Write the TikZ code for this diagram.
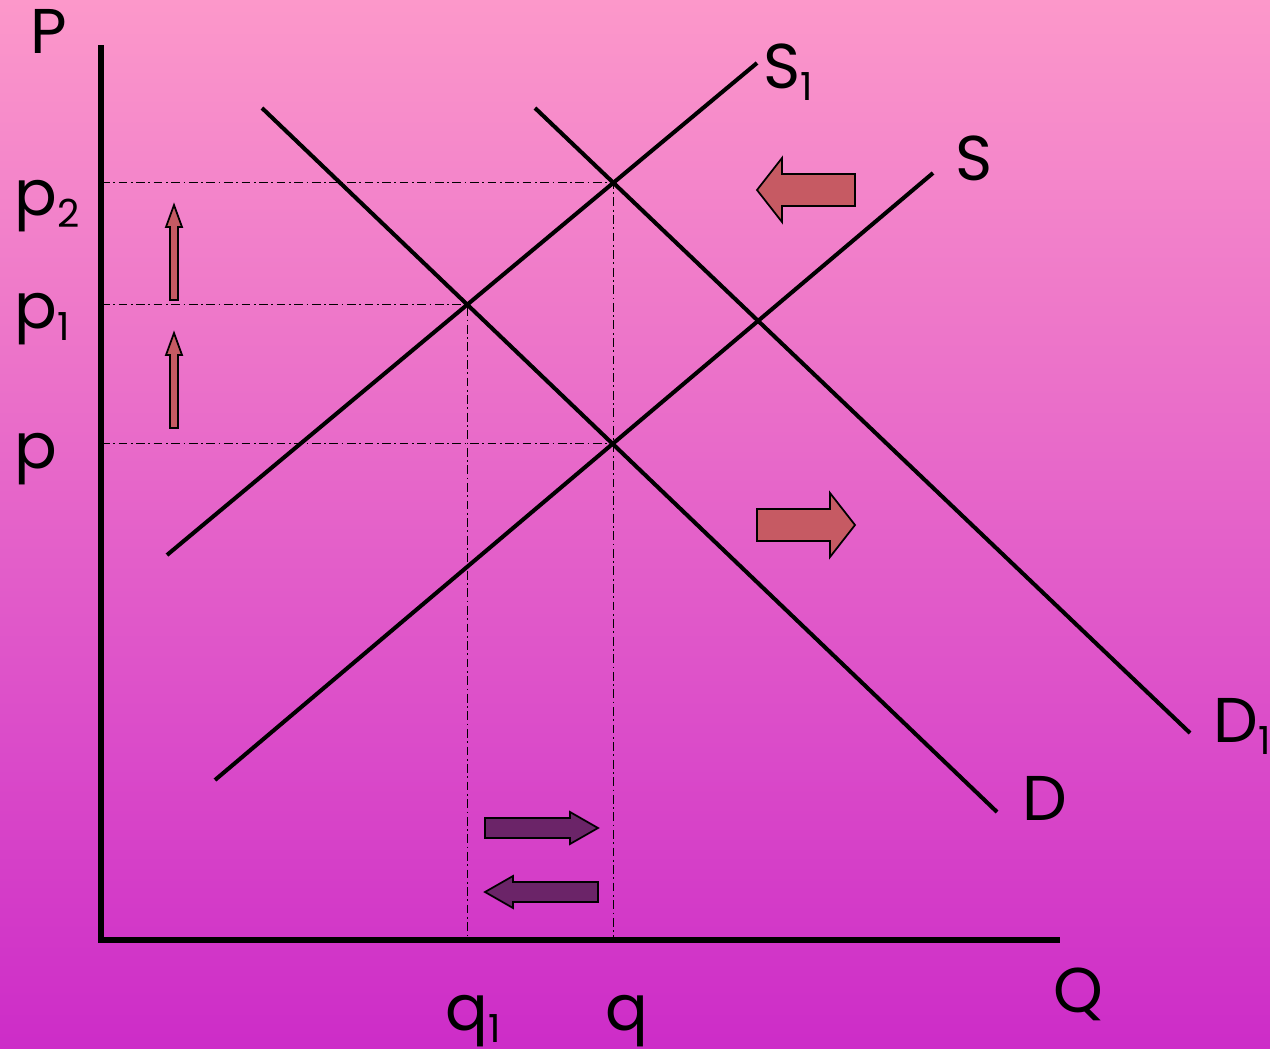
\documentclass[tikz,border=0pt]{standalone}
\usepackage{fontspec}
\setmainfont{Poppins}
\usepackage{xcolor}
\usepackage{tikz}

\definecolor{bgtop}{HTML}{FC98CA}
\definecolor{bgbottom}{HTML}{CD2CC8}
\definecolor{shiftred}{HTML}{C65A63}
\definecolor{qpurple}{HTML}{6B2468}

% block arrow: style, centre, rotation, length, body half width, head half width, head length
\newcommand{\fatarrow}[7]{%
  \filldraw[#1, shift={#2}, rotate=#3]
    (-#4/2,-#5) -- (#4/2-#7,-#5) -- (#4/2-#7,-#6) -- (#4/2,0)
    -- (#4/2-#7,#6) -- (#4/2-#7,#5) -- (-#4/2,#5) -- cycle;}

% lowered index for the labels
\newcommand{\lowidx}[1]{\raisebox{-7pt}{\fontsize{22}{24}\selectfont #1}}

\begin{document}
\begin{tikzpicture}[x=0.02cm, y=-0.02cm,
    curve/.style={line width=2.3pt},
    axis/.style={line width=3.4pt},
    guide/.style={line width=0.6pt, dash pattern=on 5pt off 2pt on 1pt off 2pt},
    lbl/.style={font=\fontsize{36}{40}\selectfont, inner sep=0pt, anchor=base west},
    shiftarrow/.style={fill=shiftred, draw=black, line width=1pt},
    qarrow/.style={fill=qpurple, draw=black, line width=1pt}]

    % Background
    \shade[top color=bgtop, bottom color=bgbottom] (0,0) rectangle (1270,1048);
    \useasboundingbox (0,0) rectangle (1270,1048);

    % Define curve end points
    \coordinate (origin) at (101,940);
    \coordinate (s1a) at (167,555);
    \coordinate (s1b) at (757,63);
    \coordinate (sa) at (215,780);
    \coordinate (sb) at (933,173);
    \coordinate (da) at (262,108);
    \coordinate (db) at (997,812);
    \coordinate (d1a) at (535,108);
    \coordinate (d1b) at (1190,733);

    % Equilibrium points
    \coordinate (e0) at (intersection of sa--sb and da--db);
    \coordinate (e1) at (intersection of s1a--s1b and da--db);
    \coordinate (e2) at (intersection of s1a--s1b and d1a--d1b);

    % Guide lines
    \draw[guide] (e0 -| origin) -- (e0);
    \draw[guide] (e1 -| origin) -- (e1) -- (e1 |- origin);
    \draw[guide] (e2 -| origin) -- (e2) -- (e2 |- origin);

    % Axes
    \draw[axis] (101,45) -- (origin) -- (1060,940);

    % Supply and demand curves
    \draw[curve] (s1a) -- (s1b);
    \draw[curve] (sa) -- (sb);
    \draw[curve] (da) -- (db);
    \draw[curve] (d1a) -- (d1b);

    % Shift arrows
    \fatarrow{shiftarrow}{(806,190)}{180}{98}{16}{32}{25}
    \fatarrow{shiftarrow}{(806,525)}{0}{98}{16}{32}{25}
    \fatarrow{shiftarrow}{(174,252.5)}{90}{95}{4}{8}{22}
    \fatarrow{shiftarrow}{(174,380.5)}{90}{95}{4}{8}{22}
    \fatarrow{qarrow}{(541.5,828)}{0}{113}{10}{16}{28}
    \fatarrow{qarrow}{(541.5,892)}{180}{113}{10}{16}{28}

    % Labels
    \node[lbl] (plabel) at (30,53) {P};
    \node[lbl] (p2label) at (14,215) {p\lowidx{2}};
    \node[lbl] (p1label) at (14,328) {p\lowidx{1}};
    \node[lbl] (p0label) at (14,468) {p};
    \node[lbl] (q1label) at (445,1030) {q\lowidx{1}};
    \node[lbl] (q0label) at (605,1030) {q};
    \node[lbl] (Qlabel) at (1053,1012) {Q};
    \node[lbl] (s1label) at (763,88) {S\lowidx{1}};
    \node[lbl] (s0label) at (955,180) {S};
    \node[lbl] (d0label) at (1022,820) {D};
    \node[lbl] (d1label) at (1213,742) {D\lowidx{1}};

\end{tikzpicture}
\end{document}
